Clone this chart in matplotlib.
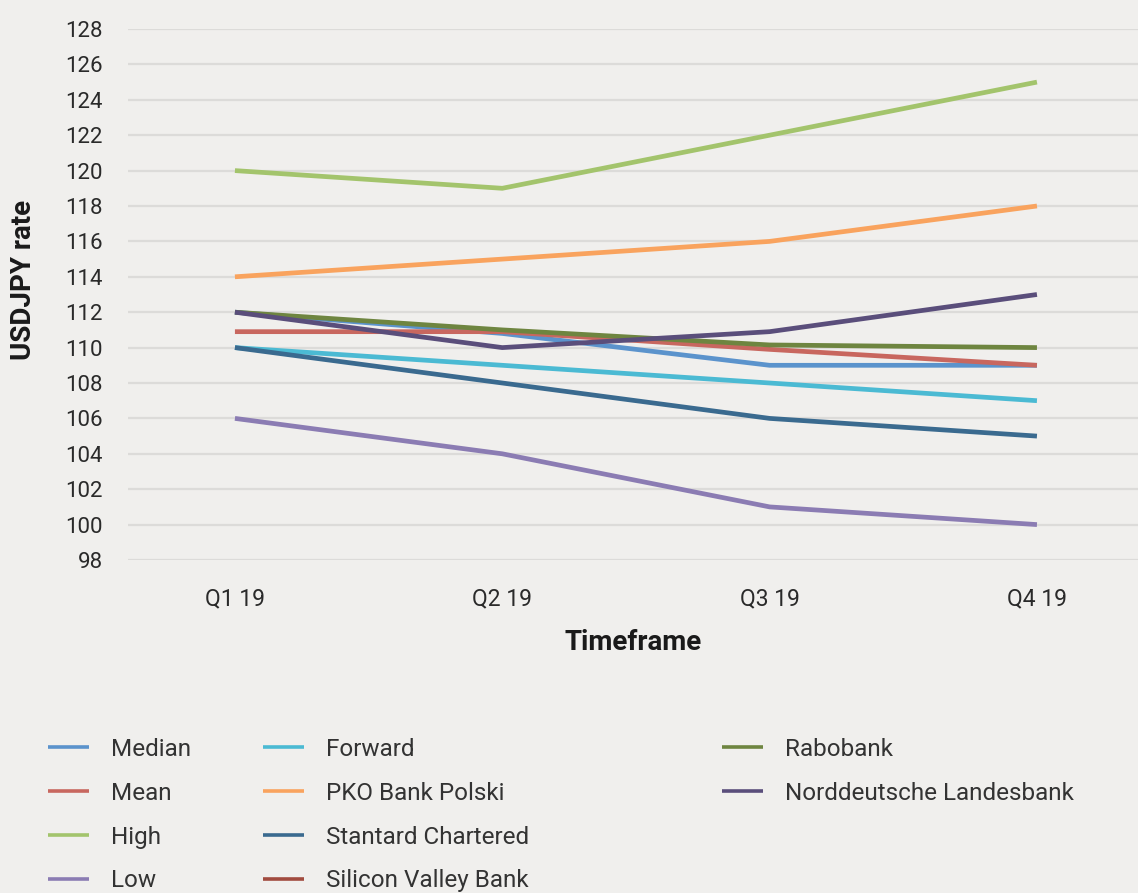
import matplotlib.pyplot as plt
import numpy as np

plt.rcParams['font.family'] = ['Roboto', 'DejaVu Sans']

# Quarters on the x axis
quarters = ["Q1 19", "Q2 19", "Q3 19", "Q4 19"]

# USDJPY forecasts per source
median = [112, 110.8, 109, 109]
mean = [110.9, 110.9, 109.9, 109]
high = [120, 119, 122, 125]
low = [106, 104, 101, 100]
forward = [110, 109, 108, 107]
pko = [114, 115, 116, 118]
stanchart = [110, 108, 106, 105]
svb = [np.nan, np.nan, np.nan, np.nan]  # in legend only, no line shown
rabobank = [112, 111, 110.15, 110]
nordlb = [112, 110, 110.9, 113]

yticks = list(range(98, 129, 2))

series = [
    ("Median", median, "#5b93cc"),
    ("Mean", mean, "#c8675f"),
    ("High", high, "#a3c46c"),
    ("Low", low, "#8b7cb3"),
    ("Forward", forward, "#4bbad3"),
    ("PKO Bank Polski", pko, "#f9a35e"),
    ("Stantard Chartered", stanchart, "#3a6a8f"),
    ("Silicon Valley Bank", svb, "#a14b3f"),
    ("Rabobank", rabobank, "#6e8540"),
    ("Norddeutsche Landesbank", nordlb, "#5a4e7b"),
]

bg = "#f0efed"
fig = plt.figure(figsize=(11.38, 8.93), dpi=100, facecolor=bg)
ax = fig.add_axes([128 / 1138, 1 - 560 / 893, 1 - 128 / 1138, (560 - 29) / 893])
ax.set_facecolor(bg)

x = np.arange(len(quarters))
handles = []
for name, vals, col in series:
    ln, = ax.plot(x, vals, color=col, lw=3.4, solid_capstyle="butt",
                  solid_joinstyle="round", label=name)
    handles.append(ln)

ax.set_xlim(-0.40, 3.378)
ax.set_ylim(98, 128)
ax.set_yticks(yticks)
ax.set_xticks(x)
ax.set_xticklabels(quarters)
ax.tick_params(axis="y", length=0, pad=18, labelsize=16, labelcolor="#2a2a2a")
ax.tick_params(axis="x", length=0, pad=20, labelsize=16.5, labelcolor="#2a2a2a")
ax.grid(axis="y", color="#dcdbd9", lw=1.6)
ax.set_axisbelow(True)
for s in ax.spines.values():
    s.set_visible(False)

ax.set_ylabel("USDJPY rate", fontsize=20, fontweight="bold", color="#1a1a1a")
ax.yaxis.set_label_coords(-0.09, 0.527)
ax.set_xlabel("Timeframe", fontsize=20, fontweight="bold", color="#1a1a1a", labelpad=13)

# legend in three columns
cols = [(handles[0:4], 38 / 1138), (handles[4:8], 253 / 1138), (handles[8:10], 712 / 1138)]
for hs, xpos in cols:
    leg = fig.legend(handles=hs, loc="upper left", bbox_to_anchor=(xpos, 1 - 728 / 893),
                     frameon=False, handlelength=1.7, handletextpad=0.9,
                     labelspacing=0.86, borderaxespad=0, prop={"size": 17.5})
    for t in leg.get_texts():
        t.set_color("#333333")
    for l in leg.get_lines():
        l.set_linewidth(2.6)

fig.savefig("out.png", dpi=100, facecolor=bg)
